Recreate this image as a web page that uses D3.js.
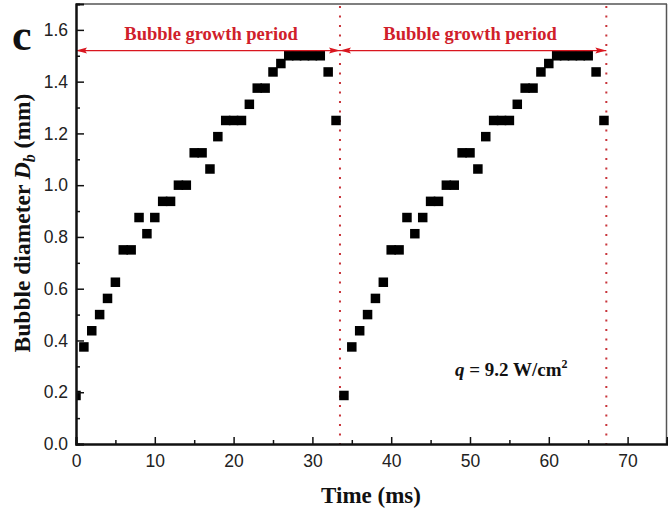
<!DOCTYPE html>
<html>
<head>
<meta charset="utf-8">
<script src="https://cdn.jsdelivr.net/npm/d3@7"></script>
<style>
  html, body { margin: 0; padding: 0; background: #fff; }
  svg { display: block; }
</style>
</head>
<body>
<svg id="chart" width="668" height="518"></svg>
<script>
// ---- data ----
const times = [0,1,2,3,4,5,6,7,8,9,10,11,12,13,14,15,16,17,18,19,20,21,22,23,24,25,26,27,28,29,30,31,32,33,
               34,35,36,37,38,39,40,41,42,43,44,45,46,47,48,49,50,51,52,53,54,55,56,57,58,59,60,61,62,63,64,65,66,67];
const diameters = [0.1875,0.375,0.4375,0.5,0.5625,0.625,0.75,0.75,0.875,0.8125,0.875,0.9375,0.9375,1.0,1.0,1.125,1.125,1.0625,1.1875,1.25,1.25,1.25,1.3125,1.375,1.375,1.4375,1.47,1.5,1.5,1.5,1.5,1.5,1.4375,1.25,
                   0.1875,0.375,0.4375,0.5,0.5625,0.625,0.75,0.75,0.875,0.8125,0.875,0.9375,0.9375,1.0,1.0,1.125,1.125,1.0625,1.1875,1.25,1.25,1.25,1.3125,1.375,1.375,1.4375,1.47,1.5,1.5,1.5,1.5,1.5,1.4375,1.25];
const periodBounds = [33.5, 67.3];           // dotted red lines (ms)
const periodArrows = [[0, 33.5], [33.5, 67.3]];
const arrowLevel = 1.52;
const periodLabel = "Bubble growth period";
const xTicks = [0,10,20,30,40,50,60,70];
const xMinor = [5,15,25,35,45,55,65];
const yTicks = [0.0,0.2,0.4,0.6,0.8,1.0,1.2,1.4,1.6];
const yMinor = [0.1,0.3,0.5,0.7,0.9,1.1,1.3,1.5];

// ---- layout ----
const svg = d3.select("#chart");
const L = 76, R = 667, T = 4, B = 444;
const x = d3.scaleLinear().domain([0, 75]).range([L, R]);
const y = d3.scaleLinear().domain([0, 1.7]).range([B, T]);

svg.append("defs").append("clipPath").attr("id","plotclip")
  .append("rect").attr("x", L).attr("y", T).attr("width", R - L).attr("height", B - T);

// frame (top/right)
svg.append("line").attr("x1", L).attr("x2", R).attr("y1", T).attr("y2", T)
  .attr("stroke", "#555").attr("stroke-width", 1.5);
svg.append("line").attr("x1", R - 0.5).attr("x2", R - 0.5).attr("y1", T).attr("y2", B)
  .attr("stroke", "#555").attr("stroke-width", 1.5);

// dotted lines
svg.append("g").selectAll("line").data(periodBounds).join("line")
  .attr("x1", d => x(d)).attr("x2", d => x(d))
  .attr("y1", T + 2).attr("y2", B)
  .attr("stroke", "#c8343a").attr("stroke-width", 2)
  .attr("stroke-dasharray", "2,7.5");

// data squares
const sq = 9.5;
svg.append("g").attr("clip-path", "url(#plotclip)")
  .selectAll("rect").data(times.map((t, i) => [t, diameters[i]])).join("rect")
  .attr("x", d => x(d[0]) - sq / 2).attr("y", d => y(d[1]) - sq / 2)
  .attr("width", sq).attr("height", sq).attr("fill", "#000");

// arrows
const red = "#d9161f";
const ay = y(arrowLevel);
const ag = svg.append("g");
periodArrows.forEach(([a, b]) => {
  const x1 = x(a), x2 = x(b);
  ag.append("line").attr("x1", x1).attr("x2", x2).attr("y1", ay).attr("y2", ay)
    .attr("stroke", red).attr("stroke-width", 1.2);
  const hl = 11, hh = 3;
  ag.append("path").attr("d", `M${x1},${ay} L${x1 + hl},${ay - hh} L${x1 + hl - 2},${ay} L${x1 + hl},${ay + hh} Z`).attr("fill", red);
  ag.append("path").attr("d", `M${x2},${ay} L${x2 - hl},${ay - hh} L${x2 - hl + 2},${ay} L${x2 - hl},${ay + hh} Z`).attr("fill", red);
});
// period labels
const labelCenters = [211, 470];
svg.append("g").selectAll("text").data(labelCenters).join("text")
  .attr("x", d => d).attr("y", 39.5).attr("text-anchor", "middle")
  .attr("font-family", "'Liberation Serif', 'Times New Roman', serif")
  .attr("font-weight", "bold").attr("font-size", 18.5).attr("fill", "#d0202a")
  .text(periodLabel);

// axes
const tickFont = "'Liberation Sans', Arial, sans-serif";
svg.append("g").attr("transform", `translate(0,${B})`)
  .call(d3.axisBottom(x).tickValues(xTicks).tickSize(-7).tickPadding(11).tickFormat(d3.format("d")));
svg.append("g").attr("transform", `translate(0,${B})`)
  .call(d3.axisBottom(x).tickValues(xMinor).tickSize(-4).tickFormat(""));
svg.append("g").attr("transform", `translate(${L},0)`)
  .call(d3.axisLeft(y).tickValues(yTicks).tickSize(-8).tickPadding(8).tickFormat(d3.format(".1f")));
svg.append("g").attr("transform", `translate(${L},0)`)
  .call(d3.axisLeft(y).tickValues(yMinor).tickSize(-4).tickFormat(""));

svg.selectAll(".domain").attr("stroke", "#111").attr("stroke-width", 2);
svg.selectAll(".tick line").attr("stroke", "#111").attr("stroke-width", 1.5);
svg.selectAll(".tick text").attr("font-family", tickFont).attr("font-size", 17.5).attr("fill", "#222");

// axis titles
const serif = "'Liberation Serif', 'Times New Roman', serif";
svg.append("text").attr("x", 371).attr("y", 503).attr("text-anchor", "middle")
  .attr("font-family", serif).attr("font-weight", "bold").attr("font-size", 23).attr("fill", "#111")
  .text("Time (ms)");

const yt = svg.append("text").attr("transform", "translate(30,223) rotate(-90)")
  .attr("text-anchor", "middle")
  .attr("font-family", serif).attr("font-weight", "bold").attr("font-size", 23.5).attr("fill", "#111");
yt.append("tspan").text("Bubble diameter ");
yt.append("tspan").attr("font-style", "italic").text("D");
yt.append("tspan").attr("font-style", "italic").attr("font-size", 16).attr("dy", 5).text("b");
yt.append("tspan").attr("dy", -5).text(" (mm)");

// panel letter
svg.append("text").attr("x", 12).attr("y", 50)
  .attr("font-family", serif).attr("font-weight", "bold").attr("font-size", 44).attr("fill", "#111")
  .text("c");

// annotation
const qt = svg.append("text").attr("x", 455).attr("y", 376)
  .attr("font-family", serif).attr("font-weight", "bold").attr("font-size", 19).attr("fill", "#111");
qt.append("tspan").attr("font-style", "italic").text("q");
qt.append("tspan").text(" = 9.2 W/cm");
qt.append("tspan").attr("font-size", 12).attr("dy", -8).text("2");
</script>
</body>
</html>
